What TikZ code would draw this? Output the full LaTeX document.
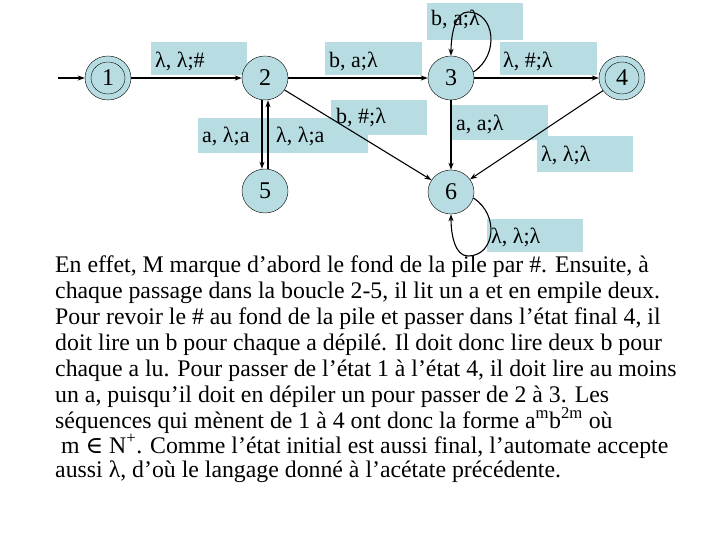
\documentclass[tikz,border=0pt]{standalone}
\usepackage{fontspec}
\setmainfont{Liberation Serif}
\newfontfamily\symf{DejaVu Serif}
\usetikzlibrary{arrows.meta,shapes.geometric}
\definecolor{cy}{RGB}{183,221,226}
\begin{document}
\begin{tikzpicture}[x=1pt,y=-1pt,
  st/.style={ellipse,draw,fill=cy,minimum width=46pt,minimum height=44pt,inner sep=0pt,font=\fontsize{24}{24}\selectfont},
  lab/.style={fill=cy,inner sep=0pt,anchor=north west,text depth=0pt},
  lt/.style={anchor=west,font=\fontsize{22}{22}\selectfont,inner sep=0pt},
  ed/.style={-{Stealth[length=7pt,width=5pt]},line width=1.1pt},
  tx/.style={anchor=base west,inner sep=0pt,font=\fontsize{23.8}{24}\selectfont}]
\useasboundingbox (0,0) rectangle (720,540);
\node[lab,minimum width=96pt,minimum height=33pt] (l12) at (151,42) {};
\node[lt] (x12) at (155,61) {λ, λ;\#};
\node[lab,minimum width=97pt,minimum height=33pt] (l23) at (325,42) {};
\node[lt] (x23) at (329,61) {b, a;λ};
\node[lab,minimum width=96pt,minimum height=37pt] (l33) at (427,3) {};
\node[lt] (x33) at (431,19) {b, a;λ};
\node[lab,minimum width=97pt,minimum height=33pt] (l34) at (500,42) {};
\node[lt] (x34) at (503,61) {λ, \#;λ};
\node[lab,minimum width=70pt,minimum height=35pt] (l25) at (198,118) {};
\node[lt] (x25) at (202,136) {a, λ;a};
\node[lab,minimum width=100pt,minimum height=35pt] (l52) at (268,118) {};
\node[lt] (x52) at (276,136) {λ, λ;a};
\node[lab,minimum width=96pt,minimum height=35pt] (l26) at (331,100) {};
\node[lt] (x26) at (336,117) {b, \#;λ};
\node[lab,minimum width=96pt,minimum height=35pt] (l36) at (452,105) {};
\node[lt] (x36) at (456,124) {a, a;λ};
\node[lab,minimum width=96pt,minimum height=36pt] (l46) at (537,136) {};
\node[lt] (x46) at (541,155) {λ, λ;λ};
\node[lab,minimum width=96pt,minimum height=33pt] (l66) at (487,219) {};
\node[lt] (x66) at (491,237) {λ, λ;λ};
\node[st] (n1) at (108,78) {1};
\draw (n1) circle[x radius=17pt,y radius=16pt];
\node[st] (n2) at (265,78) {2};
\node[st] (n3) at (451,78) {3};
\node[st] (n4) at (622,78) {4};
\draw (n4) circle[x radius=17pt,y radius=16pt];
\node[st] (n5) at (265,191) {5};
\node[st] (n6) at (451,192) {6};
\coordinate (s) at (58,78);
\draw[ed] (s) -- (n1);
\draw[ed] (n1) -- (n2);
\draw[ed] (n2) -- (n3);
\draw[ed] (n3.east) -- (n4);
\draw[ed] (n2) -- (n6);
\draw[ed] (n3) -- (n6);
\draw[ed] (n4) -- (n6);
\draw[ed] ([xshift=-3pt]n2.south) -- ([xshift=-3pt]n5.north);
\draw[ed] ([xshift=3pt]n5.north) -- ([xshift=3pt]n2.south);
\draw[ed] (n3.15) .. controls (500,55) and (495,12) .. (468,12) .. controls (455,12) and (451,35) .. (n3.north);
\draw[ed] (n6.-15) .. controls (500,215) and (495,256) .. (468,256) .. controls (455,256) and (451,235) .. (n6.south);
\node[tx] (t1) at (55,272) {En effet, M marque d’abord le fond de la pile par \#. Ensuite, à};
\node[tx] (t2) at (55,298) {chaque passage dans la boucle 2-5, il lit un a et en empile deux.};
\node[tx] (t3) at (55,324) {Pour revoir le \# au fond de la pile et passer dans l’état final 4, il};
\node[tx] (t4) at (55,350) {doit lire un b pour chaque a dépilé. Il doit donc lire deux b pour};
\node[tx] (t5) at (55,376) {chaque a lu. Pour passer de l’état 1 à l’état 4, il doit lire au moins};
\node[tx] (t6) at (55,402) {un a, puisqu’il doit en dépiler un pour passer de 2 à 3. Les};
\node[tx] (t7) at (55,428) {séquences qui mènent de 1 à 4 ont donc la forme a\textsuperscript{m}b\textsuperscript{2m} où};
\node[tx] (t8) at (55,453) {\ m {\symf ∈} N\textsuperscript{+}. Comme l’état initial est aussi final, l’automate accepte};
\node[tx] (t9) at (55,477) {aussi λ, d’où le langage donné à l’acétate précédente.};
\end{tikzpicture}
\end{document}
